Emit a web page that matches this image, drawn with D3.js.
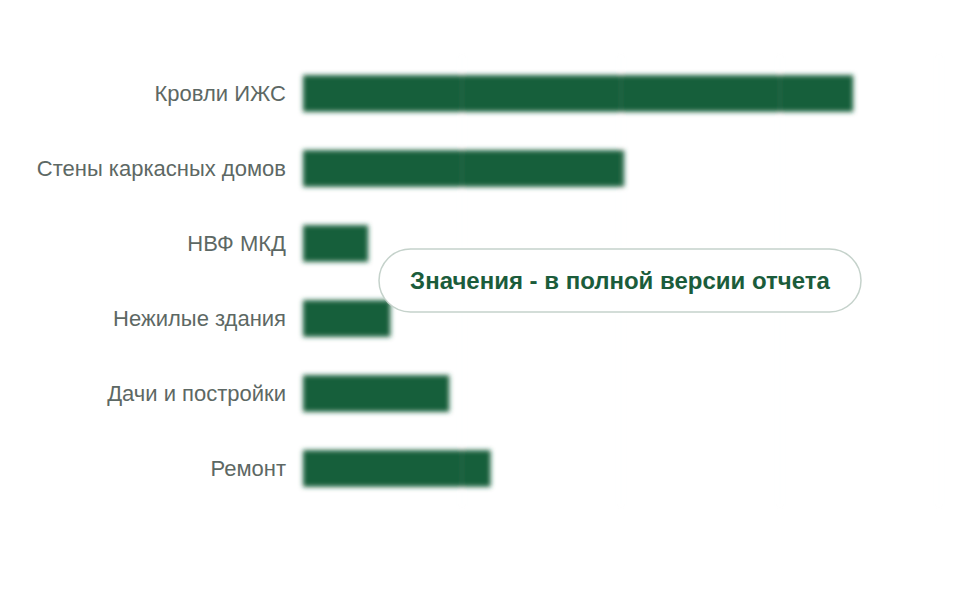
<!DOCTYPE html>
<html>
<head>
<meta charset="utf-8">
<script src="https://cdn.jsdelivr.net/npm/d3@7"></script>
<style>
  body{margin:0;background:#fff;}
  svg{display:block;}
</style>
</head>
<body>
<div class="chart"></div>
<script>
const categories = ["Кровли ИЖС","Стены каркасных домов","НВФ МКД","Нежилые здания","Дачи и постройки","Ремонт"]
const values = [34.6, 20.2, 4.1, 5.5, 9.2, 11.8]
const ticks = [0, 10, 20, 30, 40]
const note = "Значения - в полной версии отчета"

const w = 960
const h = 600
const padLeft = 303
const padRight = 939
const padTop = 56
const padBottom = 506

const xScale = d3.scaleLinear().domain([0,40]).range([padLeft,padRight])
const yScale = d3.scaleBand().domain(categories).range([padTop,padBottom]).paddingInner(0.51).paddingOuter(0.255)

const svg = d3.select(".chart").append("svg").attr("width",w).attr("height",h)

const defs = svg.append("defs")
defs.append("filter").attr("id","blur").attr("x","-10%").attr("y","-50%").attr("width","120%").attr("height","200%")
  .append("feGaussianBlur").attr("stdDeviation",2.5)

const plot = svg.append("g").attr("filter","url(#blur)")

plot.selectAll("rect.bar")
    .data(values)
    .enter()
    .append("rect")
    .attr("class","bar")
    .attr("fill","#175e3b")
    .attr("x",xScale(0))
    .attr("y",(d,i)=>yScale(categories[i]))
    .attr("width",d=>xScale(d)-xScale(0))
    .attr("height",yScale.bandwidth())

// faint vertical grid lines drawn over the bars
plot.selectAll("line.grid")
    .data(ticks.slice(1))
    .enter()
    .append("line")
    .attr("class","grid")
    .attr("x1",d=>xScale(d))
    .attr("x2",d=>xScale(d))
    .attr("y1",padTop)
    .attr("y2",padBottom)
    .attr("stroke","#dfe6e2")
    .attr("stroke-opacity",0.08)
    .attr("stroke-width",2)

const yAxis = d3.axisLeft(yScale).tickSize(0).tickPadding(17)
svg.append("g")
    .attr("transform",`translate(${padLeft},0)`)
    .call(yAxis)
    .call(g=>g.select(".domain").remove())
    .selectAll("text")
    .attr("fill","#5d6864")
    .style("font-family","'Liberation Sans', Arial, sans-serif")
    .style("font-size","22px")

// overlay pill
const pill = svg.append("g").attr("transform","translate(620,280.5)")
pill.append("rect")
    .attr("x",-241).attr("y",-31.5)
    .attr("width",482).attr("height",63)
    .attr("rx",31.5)
    .attr("fill","#ffffff")
    .attr("stroke","#c5d2cb")
    .attr("stroke-width",1.5)
pill.append("text")
    .text(note)
    .attr("text-anchor","middle")
    .attr("dy","0.35em")
    .attr("fill","#1b5c3b")
    .style("font-family","'Liberation Sans', Arial, sans-serif")
    .style("font-weight","bold")
    .style("font-size","24px")
</script>
</body>
</html>
